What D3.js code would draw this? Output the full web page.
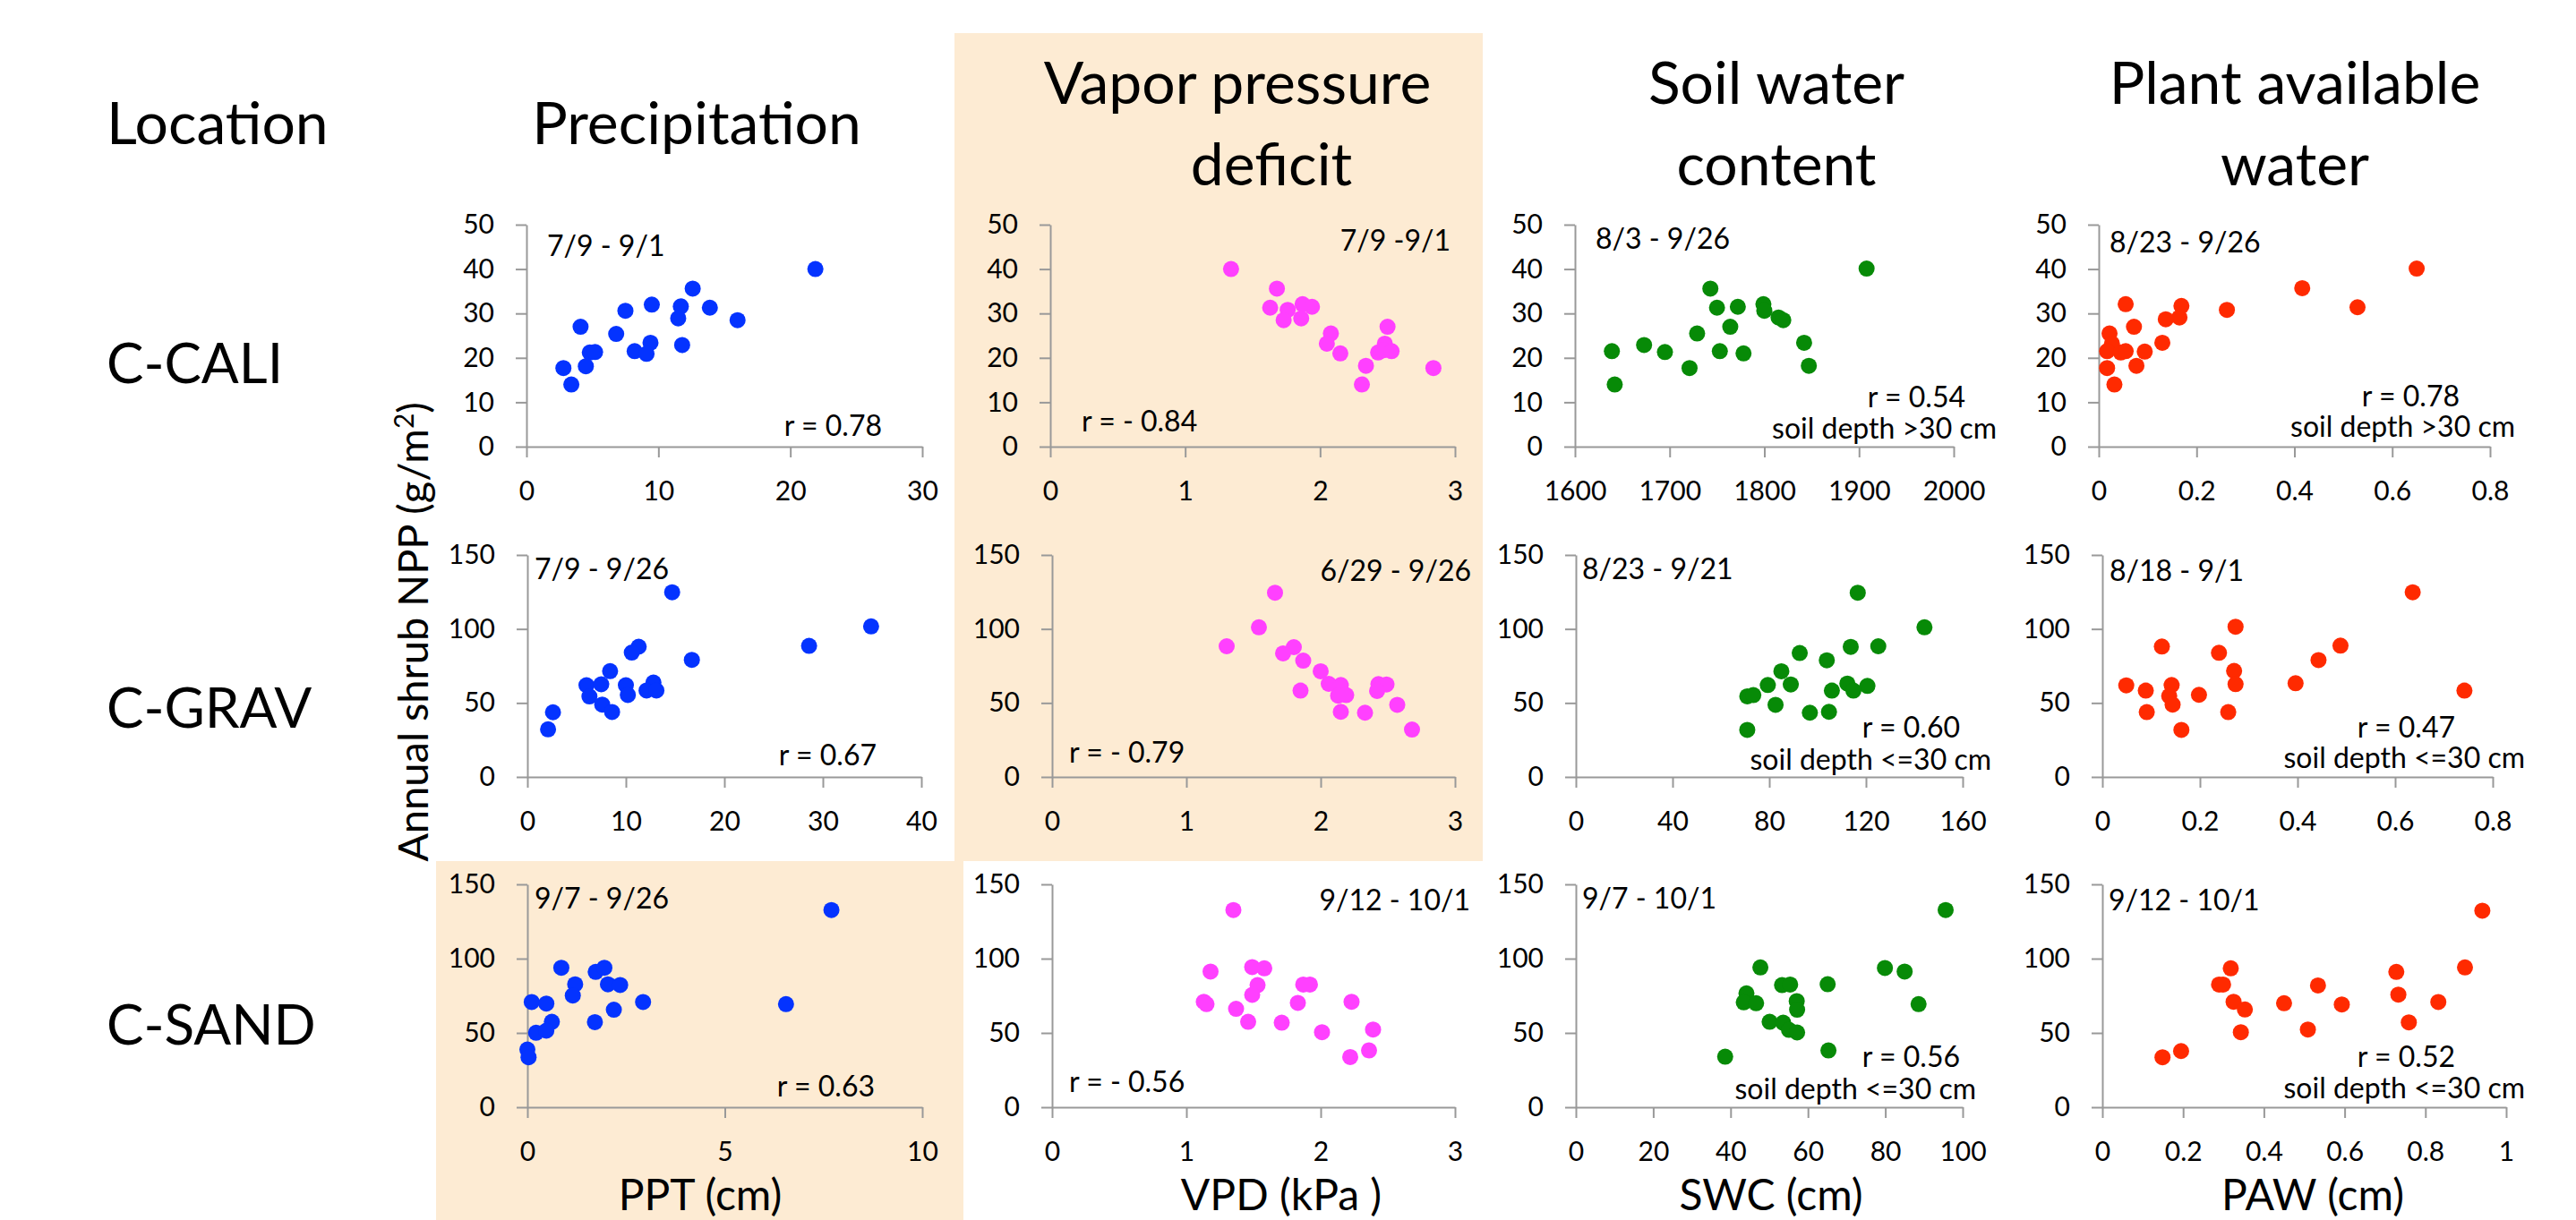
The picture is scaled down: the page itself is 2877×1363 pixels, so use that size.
<!DOCTYPE html>
<html>
<head>
<meta charset="utf-8">
<script src="https://cdn.jsdelivr.net/npm/d3@7"></script>
<style>
  body { margin: 0; background: #fff; }
  text { font-family: Lato, "Open Sans", sans-serif; fill: #000; }
  .axis path, .axis line { stroke: #999; stroke-width: 2; }
  .axis text { font-size: 30px; font-family: Lato, sans-serif; fill: #000; }
</style>
</head>
<body>
<svg id="chart" width="2877" height="1363"></svg>
<script>
// locations, columns and titles
const locations = ['C-CALI', 'C-GRAV', 'C-SAND'];
const headers = [['Precipitation'], ['Vapor pressure', 'deficit'], ['Soil water', 'content'], ['Plant available', 'water']];
const xTitles = ['PPT (cm)', 'VPD (kPa )', 'SWC (cm)', 'PAW (cm)'];
const colors = ['#0433ff', '#ff40ff', '#078a07', '#ff2a00'];

// tick labels
const nppTicksCali = [0, 10, 20, 30, 40, 50];
const nppTicks = [0, 50, 100, 150];
const pptTicks = [[0, 10, 20, 30], [0, 10, 20, 30, 40], [0, 5, 10]];
const vpdTicks = [0, 1, 2, 3];
const swcTicks = [[1600, 1700, 1800, 1900, 2000], [0, 40, 80, 120, 160], [0, 20, 40, 60, 80, 100]];
const pawTicks = [[0, 0.2, 0.4, 0.6, 0.8], [0, 0.2, 0.4, 0.6, 0.8], [0, 0.2, 0.4, 0.6, 0.8, 1]];

// [x, NPP] per panel
const caliPPT = [[21.9,40],[12.6,35.6],[9.5,32.0],[11.7,31.6],[13.9,31.3],[7.5,30.6],[11.5,28.9],[16.0,28.5],[4.1,27.0],[6.8,25.4],[9.4,23.4],[11.8,22.9],[4.8,21.2],[5.2,21.3],[8.2,21.5],[9.1,20.9],[2.8,17.7],[4.5,18.1],[3.4,14.0]];
const caliVPD = [[1.34,40],[1.68,35.6],[1.63,31.3],[1.76,30.8],[1.73,28.5],[1.87,32.1],[1.94,31.5],[1.86,28.9],[2.50,27.0],[2.08,25.5],[2.05,23.2],[2.15,21.0],[2.48,23.2],[2.43,21.2],[2.47,21.7],[2.53,21.5],[2.34,18.2],[2.31,14.0],[2.84,17.7]];
const caliSWC = [[1908,40.1],[1743,35.6],[1750,31.3],[1772,31.5],[1799,32.1],[1800,30.6],[1815,29.1],[1820,28.5],[1764,27.0],[1729,25.5],[1842,23.4],[1673,22.9],[1639,21.5],[1695,21.3],[1753,21.5],[1778,21.0],[1721,17.7],[1847,18.2],[1642,14.0]];
const caliPAW = [[0.650,40.1],[0.416,35.7],[0.529,31.4],[0.262,30.8],[0.055,32.1],[0.169,31.7],[0.165,29.1],[0.137,28.7],[0.072,27.0],[0.022,25.5],[0.027,23.2],[0.130,23.4],[0.017,21.5],[0.045,21.2],[0.055,21.5],[0.094,21.4],[0.077,18.2],[0.017,17.7],[0.032,14.0]];

const gravPPT = [[14.7,124.8],[34.9,101.7],[28.6,88.6],[11.3,88.0],[10.6,84.0],[16.7,79.1],[8.4,71.5],[6.0,62.0],[7.5,62.6],[10.0,62.0],[12.8,63.8],[12.1,58.4],[13.1,58.4],[6.3,54.4],[10.2,55.4],[7.6,48.9],[8.6,43.9],[2.6,43.7],[2.1,32.2]];
const gravVPD = [[1.66,124.5],[1.54,101.1],[1.30,88.3],[1.80,87.7],[1.72,83.5],[1.87,78.6],[2.00,71.4],[2.06,62.9],[2.15,62.1],[1.85,58.3],[2.13,54.9],[2.19,55.3],[2.15,44.0],[2.33,43.4],[2.43,62.7],[2.49,62.5],[2.42,58.1],[2.57,48.7],[2.68,32.0]];
const gravSWC = [[116.6,124.5],[144.2,101.1],[113.7,87.9],[125.1,88.3],[92.6,83.7],[103.8,78.8],[85.0,71.4],[79.4,62.1],[88.9,62.5],[112.3,63.1],[120.6,61.5],[105.9,58.3],[114.8,58.3],[70.9,54.5],[73.4,55.3],[82.6,48.7],[96.8,43.4],[104.7,44.0],[70.9,31.8]];
const gravPAW = [[0.636,124.8],[0.273,101.5],[0.122,88.1],[0.488,88.7],[0.239,83.9],[0.443,79.0],[0.270,71.6],[0.273,62.7],[0.049,61.9],[0.142,62.1],[0.396,63.3],[0.089,58.3],[0.742,58.3],[0.137,54.7],[0.198,55.5],[0.144,48.9],[0.091,43.8],[0.258,43.8],[0.162,31.8]];

const sandPPT = [[7.70,132.7],[0.86,93.9],[1.73,91.1],[1.95,93.9],[1.21,82.7],[2.04,82.7],[2.35,82.3],[1.15,75.2],[0.11,70.8],[0.48,69.8],[2.93,70.8],[6.55,69.4],[2.19,65.6],[0.62,57.5],[1.71,57.3],[0.22,50.1],[0.48,51.5],[0.0,38.8],[0.03,33.6]];
const sandVPD = [[1.35,132.7],[1.18,91.3],[1.49,94.3],[1.58,93.5],[1.53,82.2],[1.49,75.6],[1.87,82.6],[1.92,82.6],[1.13,71.0],[1.15,69.4],[1.83,70.2],[2.23,71.0],[1.37,66.2],[1.46,57.5],[1.71,56.9],[2.01,50.5],[2.39,52.3],[2.36,38.2],[2.22,33.8]];
const sandSWC = [[95.6,132.7],[47.7,94.1],[79.9,93.7],[85.0,91.3],[53.3,82.2],[55.4,82.6],[65.1,82.8],[44.1,76.6],[43.4,70.6],[46.6,70.0],[57.1,71.4],[88.6,69.4],[57.2,65.6],[50.1,57.5],[53.6,56.9],[55.1,52.1],[57.2,50.3],[65.3,38.2],[38.6,34.0]];
const sandPAW = [[0.941,132.3],[0.318,93.5],[0.898,94.1],[0.728,91.1],[0.289,82.6],[0.299,82.6],[0.534,82.0],[0.733,75.8],[0.325,71.0],[0.353,65.8],[0.450,70.0],[0.593,69.2],[0.832,70.8],[0.759,57.1],[0.509,52.3],[0.343,50.5],[0.195,37.8],[0.149,33.6]];

// panel annotations
const dateLabels = [
  ['7/9 - 9/1', '7/9 -9/1', '8/3 - 9/26', '8/23 - 9/26'],
  ['7/9 - 9/26', '6/29 - 9/26', '8/23 - 9/21', '8/18 - 9/1'],
  ['9/7 - 9/26', '9/12 - 10/1', '9/7 - 10/1', '9/12 - 10/1']
];
const rLabels = [
  ['r = 0.78', 'r = - 0.84', 'r = 0.54', 'r = 0.78'],
  ['r = 0.67', 'r = - 0.79', 'r = 0.60', 'r = 0.47'],
  ['r = 0.63', 'r = - 0.56', 'r = 0.56', 'r = 0.52']
];
const depthLabels = ['soil depth >30 cm', 'soil depth <=30 cm', 'soil depth <=30 cm'];

const svg = d3.select('#chart');

// highlighted cells
svg.append('rect').attr('x', 1066).attr('y', 37).attr('width', 590).attr('height', 925).attr('fill', '#fdebd3');
svg.append('rect').attr('x', 487).attr('y', 962).attr('width', 589).attr('height', 401).attr('fill', '#fdebd3');

// layout (pixels)
const rowY = [[251, 499], [620, 868], [988, 1237]];
const colX = [
  [[588, 1030], [1173, 1625], [1759, 2182], [2344, 2781]],
  [[589, 1029], [1175, 1625], [1760, 2192], [2348, 2784]],
  [[589, 1030], [1175, 1625], [1760, 2192], [2348, 2799]]
];
const datePos = [
  [[611, 286, 'start'], [1620, 280, 'end'], [1782, 278, 'start'], [2356, 282, 'start']],
  [[597, 647, 'start'], [1643, 649, 'end'], [1767, 647, 'start'], [2356, 649, 'start']],
  [[597, 1015, 'start'], [1642, 1017, 'end'], [1767, 1015, 'start'], [2355, 1017, 'start']]
];
const rPos = [
  [[985, 487, 'end'], [1208, 482, 'start'], [2195, 455, 'end'], [2747, 454, 'end']],
  [[979, 855, 'end'], [1194, 852, 'start'], [2189, 824, 'end'], [2742, 824, 'end']],
  [[977, 1225, 'end'], [1194, 1220, 'start'], [2189, 1192, 'end'], [2742, 1192, 'end']]
];
const depthPos = [
  [null, null, [2230, 490], [2809, 488]],
  [null, null, [2224, 860], [2820, 858]],
  [null, null, [2207, 1228], [2820, 1227]]
];

const panelData = [
  [caliPPT, caliVPD, caliSWC, caliPAW],
  [gravPPT, gravVPD, gravSWC, gravPAW],
  [sandPPT, sandVPD, sandSWC, sandPAW]
];
const xTickSets = (row) => [pptTicks[row], vpdTicks, swcTicks[row], pawTicks[row]];

panelData.forEach((rowData, row) => {
  const yTicks = row === 0 ? nppTicksCali : nppTicks;
  rowData.forEach((points, col) => {
    const xTicks = xTickSets(row)[col];
    const x = d3.scaleLinear().domain(d3.extent(xTicks)).range(colX[row][col]);
    const y = d3.scaleLinear().domain(d3.extent(yTicks)).range([rowY[row][1], rowY[row][0]]);

    svg.append('g')
      .attr('class', 'axis')
      .attr('transform', 'translate(' + colX[row][col][0] + ',0)')
      .call(d3.axisLeft(y).tickValues(yTicks).tickSizeInner(12).tickSizeOuter(0).tickPadding(24).tickFormat(d3.format('')));

    svg.append('g')
      .attr('class', 'axis')
      .attr('transform', 'translate(0,' + rowY[row][1] + ')')
      .call(d3.axisBottom(x).tickValues(xTicks).tickSizeInner(12).tickSizeOuter(0).tickPadding(27).tickFormat((d) => String(d)));

    svg.append('g')
      .selectAll('circle')
      .data(points)
      .enter()
      .append('circle')
      .attr('cx', (d) => x(d[0]))
      .attr('cy', (d) => y(d[1]))
      .attr('r', 9)
      .attr('fill', colors[col]);

    const dp = datePos[row][col];
    svg.append('text').attr('x', dp[0]).attr('y', dp[1]).attr('text-anchor', dp[2])
      .style('font-size', '32px').text(dateLabels[row][col]);
    const rp = rPos[row][col];
    svg.append('text').attr('x', rp[0]).attr('y', rp[1]).attr('text-anchor', rp[2])
      .style('font-size', '32px').text(rLabels[row][col]);
    const sp = depthPos[row][col];
    if (sp) {
      svg.append('text').attr('x', sp[0]).attr('y', sp[1]).attr('text-anchor', 'end')
        .style('font-size', '32px').text(depthLabels[row]);
    }
  });
});

// column headers
const headerX = [778, 1382, 1984, 2563];
headers.forEach((lines, i) => {
  if (lines.length === 1) {
    svg.append('text').attr('x', headerX[i]).attr('y', 161).attr('text-anchor', 'middle')
      .style('font-size', '66px').text(lines[0]);
  } else {
    svg.append('text').attr('x', headerX[i]).attr('y', 116).attr('text-anchor', 'middle')
      .style('font-size', '66px').text(lines[0]);
    svg.append('text').attr('x', i === 1 ? 1420 : headerX[i]).attr('y', 207).attr('text-anchor', 'middle')
      .style('font-size', '66px').text(lines[1]);
  }
});

svg.append('text').attr('x', 119).attr('y', 161).style('font-size', '66px').text('Location');
const locY = [428, 813, 1167];
locations.forEach((name, i) => {
  svg.append('text').attr('x', 119).attr('y', locY[i]).style('font-size', '62px').text(name);
});

// axis titles
const xTitleX = [782, 1431, 1978, 2583];
xTitles.forEach((t, i) => {
  svg.append('text').attr('x', xTitleX[i]).attr('y', 1352).attr('text-anchor', 'middle')
    .style('font-size', '48px').text(t);
});

const yTitle = svg.append('text')
  .attr('transform', 'translate(478,706) rotate(-90)')
  .attr('text-anchor', 'middle')
  .style('font-size', '47px');
yTitle.append('tspan').text('Annual shrub NPP (g/m');
yTitle.append('tspan').attr('dy', -16).style('font-size', '30px').text('2');
yTitle.append('tspan').attr('dy', 16).text(')');
</script>
</body>
</html>
